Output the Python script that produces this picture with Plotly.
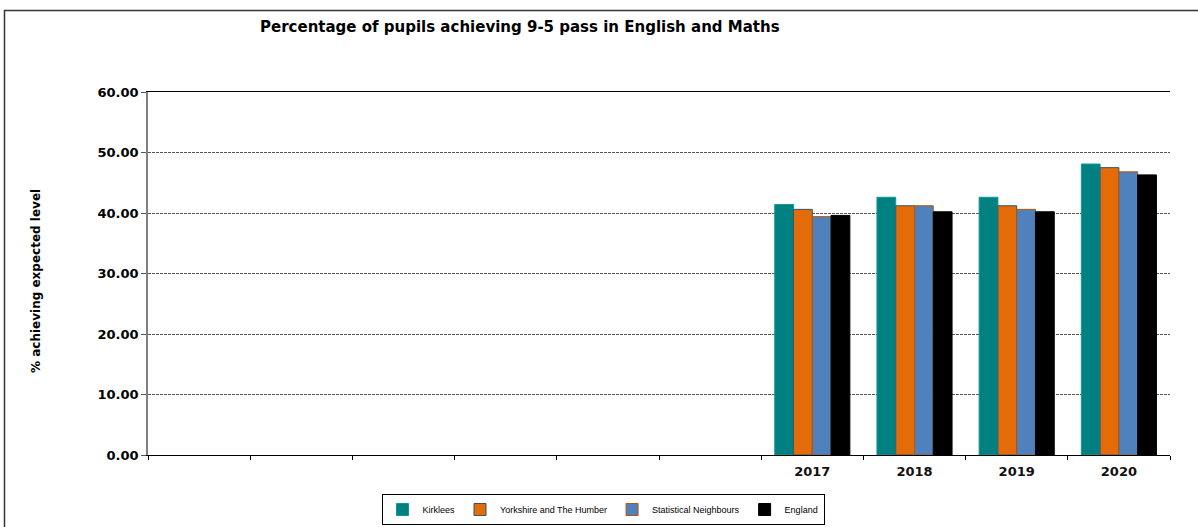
import plotly.graph_objects as go

# ---- data ----
categories = [" ", "  ", "   ", "    ", "     ", "      ", "2017", "2018", "2019", "2020"]
series_names = ["Kirklees", "Yorkshire and The Humber", "Statistical Neighbours", "England"]
kirklees = [None] * 6 + [41.4, 42.6, 42.6, 48.1]
yorkshire = [None] * 6 + [40.6, 41.2, 41.2, 47.5]
stat_neighbours = [None] * 6 + [39.4, 41.2, 40.6, 46.8]
england = [None] * 6 + [39.6, 40.2, 40.2, 46.3]
y_ticks = [0, 10, 20, 30, 40, 50, 60]

fills = ["#008080", "#E36C09", "#4F81BD", "#000000"]
edges = ["#0B9A9A", "#31596B", "#B5560A", "#000000"]

fig = go.Figure()
for name, vals, fc, ec in zip(series_names, [kirklees, yorkshire, stat_neighbours, england], fills, edges):
    fig.add_trace(go.Bar(
        x=categories, y=vals, name=name,
        marker=dict(color=fc, line=dict(color=ec, width=1)),
    ))

L, R, T, B = 148, 28, 92, 72
W, H = 1198, 527
pw, ph = W - L - R, H - T - B

def px_x(p):
    return (p - L) / pw

def px_y(p):
    return (H - B - p) / ph

fig.update_layout(
    width=W, height=H,
    margin=dict(l=L, r=R, t=T, b=B, autoexpand=False),
    paper_bgcolor="white", plot_bgcolor="white",
    barmode="group", bargap=0.265, bargroupgap=0,
    font=dict(family="DejaVu Sans", color="black"),
    showlegend=True,
    legend=dict(
        orientation="h", x=px_x(603), xanchor="center", y=px_y(525), yanchor="bottom",
        font=dict(family="Liberation Sans, Arial", size=9, color="black"),
        bordercolor="black", borderwidth=1, bgcolor="white",
        itemwidth=30, tracegroupgap=0,
    ),
    xaxis=dict(
        type="category", categoryorder="array", categoryarray=categories,
        range=[-0.5, 9.5], tickson="boundaries",
        ticks="outside", ticklen=4, tickcolor="black", ticklabelstandoff=4,
        showline=True, linecolor="black", linewidth=1, mirror=True,
        tickfont=dict(family="DejaVu Sans", size=13, color="#111", weight="bold"),
        showgrid=False,
    ),
    yaxis=dict(
        range=[0, 60], tickvals=y_ticks, tickformat=".2f",
        ticks="outside", ticklen=5, tickcolor="#555",
        showline=True, linecolor="#808080", linewidth=1.5,
        tickfont=dict(family="DejaVu Sans", size=13, color="black", weight="bold"),
        showgrid=True, gridcolor="#555555", gridwidth=1, griddash="3px,1px",
        zeroline=False,
    ),
    annotations=[
        dict(text="<b>Percentage of pupils achieving 9-5 pass in English and Maths</b>",
             xref="paper", yref="paper", x=px_x(520), y=px_y(27),
             xanchor="center", yanchor="middle", showarrow=False,
             font=dict(family="DejaVu Sans", size=15, color="black")),
        dict(text="<b>% achieving expected level</b>",
             xref="paper", yref="paper", x=px_x(36), y=px_y(281),
             xanchor="center", yanchor="middle", showarrow=False, textangle=-90,
             font=dict(family="DejaVu Sans", size=12, color="black")),
    ],
    shapes=[
        dict(type="rect", xref="paper", yref="paper",
             x0=px_x(4.5), x1=px_x(1260), y0=px_y(600), y1=px_y(10.5),
             line=dict(color="#333", width=1.5), fillcolor="rgba(0,0,0,0)", layer="below"),
    ],
)

fig.write_html("out.html")
